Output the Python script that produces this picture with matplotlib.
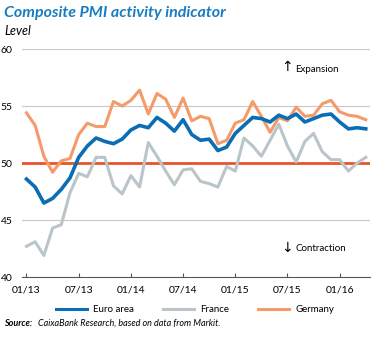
import numpy as np
import matplotlib.pyplot as plt
from matplotlib.lines import Line2D

plt.rcParams['font.family'] = ['Lato', 'DejaVu Sans']

# monthly composite PMI, Jan 2013 - Apr 2016
euro_area = [48.6, 47.9, 46.5, 46.9, 47.7, 48.7, 50.5, 51.5, 52.2, 51.9, 51.7, 52.1,
             52.9, 53.3, 53.1, 54.0, 53.5, 52.8, 53.8, 52.5, 52.0, 52.1, 51.1, 51.4,
             52.6, 53.3, 54.0, 53.9, 53.6, 54.2, 53.9, 54.3, 53.6, 53.9, 54.2, 54.3,
             53.6, 53.0, 53.1, 53.0]
france = [42.7, 43.1, 41.9, 44.3, 44.6, 47.4, 49.1, 48.8, 50.5, 50.5, 48.0, 47.3,
          48.9, 47.9, 51.8, 50.6, 49.3, 48.1, 49.4, 49.5, 48.4, 48.2, 47.9, 49.7,
          49.3, 52.2, 51.5, 50.6, 52.0, 53.4, 51.5, 50.1, 51.9, 52.6, 51.0, 50.3,
          50.3, 49.3, 50.0, 50.5]
germany = [54.4, 53.3, 50.6, 49.2, 50.2, 50.4, 52.5, 53.5, 53.2, 53.2, 55.4, 55.0,
           55.5, 56.4, 54.3, 56.1, 55.6, 54.0, 55.7, 53.7, 54.1, 53.9, 51.7, 52.0,
           53.5, 53.8, 55.4, 54.1, 52.7, 54.0, 53.7, 54.9, 54.1, 54.2, 55.2, 55.5,
           54.5, 54.2, 54.1, 53.8]
tick_labels = ['01/13', '07/13', '01/14', '07/14', '01/15', '07/15', '01/16']

blue = '#0b6db3'
grey = '#b9c5c8'
orange = '#f59a69'
red = '#e8532a'

months = np.arange(len(euro_area))

fig = plt.figure(figsize=(3.75, 3.38), dpi=100)
ax = fig.add_axes([0.059, 0.18, 0.928, 0.675])

for y in [45, 50, 55, 60]:
    ax.axhline(y, color='#c8c8c8', lw=0.8, zorder=1)

ax.plot(months, france, color=grey, lw=2.2, zorder=3)
ax.plot(months, germany, color=orange, lw=2.2, zorder=4)
ax.plot(months, euro_area, color=blue, lw=2.6, zorder=5)
ax.axhline(50, color=red, lw=2.0, zorder=2)

ax.set_xlim(-0.5, 39.5)
ax.set_ylim(40, 60)
ax.set_yticks([40, 45, 50, 55, 60])
ax.set_xticks(np.arange(0, 40, 6))
ax.set_xticklabels(tick_labels)

for s in ['top', 'right', 'left']:
    ax.spines[s].set_visible(False)
ax.spines['bottom'].set_color('#555555')
ax.spines['bottom'].set_linewidth(0.8)
ax.tick_params(axis='x', direction='in', length=3, color='#555555', labelsize=7.5, pad=6)
ax.tick_params(axis='y', length=0, labelsize=7.5, pad=7)

# expansion / contraction markers
ax.text(0.745, 0.92, '\u2191', transform=ax.transAxes, fontsize=10, va='center',
        family='DejaVu Sans')
ax.text(0.785, 0.91, 'Expansion', transform=ax.transAxes, fontsize=7, va='center')
ax.text(0.745, 0.13, '\u2193', transform=ax.transAxes, fontsize=10, va='center',
        family='DejaVu Sans')
ax.text(0.785, 0.125, 'Contraction', transform=ax.transAxes, fontsize=7, va='center')

fig.text(0.012, 0.962, 'Composite PMI activity indicator', fontsize=11.5,
         fontweight='bold', style='italic', color='#1a7cc1', va='center')
fig.text(0.012, 0.908, 'Level', fontsize=9, style='italic', va='center')

handles = [Line2D([], [], color=blue, lw=2.2),
           Line2D([], [], color=grey, lw=2.2),
           Line2D([], [], color=orange, lw=2.2)]
fig.legend(handles, ['Euro area', 'France', 'Germany'], loc='center',
           bbox_to_anchor=(0.52, 0.083), ncol=3, frameon=False, fontsize=7,
           handlelength=3.2, columnspacing=3.0, handletextpad=0.6)

fig.text(0.012, 0.044, 'Source:', fontsize=6.5, fontweight='bold', style='italic',
         va='center')
fig.text(0.1, 0.044, 'CaixaBank Research, based on data from Markit.', fontsize=6.5,
         style='italic', va='center')

fig.savefig('out.png', dpi=100)
